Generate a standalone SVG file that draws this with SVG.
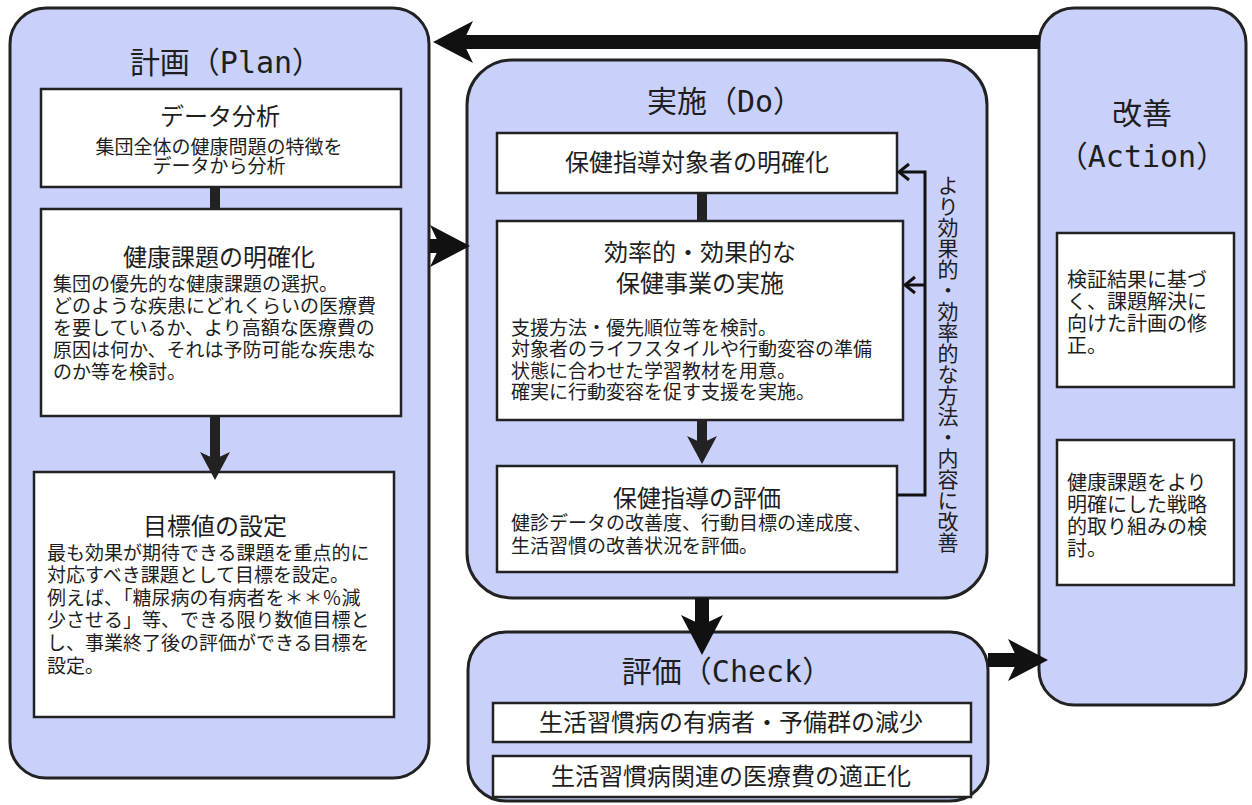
<svg xmlns="http://www.w3.org/2000/svg" width="1252" height="805" viewBox="0 0 1252 805">
<style>
.outer{fill:#c9d0fa;stroke:#222;stroke-width:3}
.inner{fill:#fff;stroke:#222;stroke-width:2.5}
.ttl{font-family:'DejaVu Sans Mono','Noto Sans CJK JP',monospace;font-size:30px;fill:#1e1e1e}
.sub{font-family:'Noto Sans CJK JP',sans-serif;font-size:24px;fill:#1e1e1e}
.body{font-family:'Noto Sans CJK JP',sans-serif;font-size:19px;fill:#1e1e1e}
.act{font-family:'Noto Sans CJK JP',sans-serif;font-size:20px;fill:#1e1e1e}
.c{text-anchor:middle}
.big{stroke:#111;stroke-width:14;fill:none}
.med{stroke:#222;stroke-width:10;fill:none}
.thin{stroke:#111;stroke-width:3;fill:none}
</style>
<defs>
<marker id="ab" viewBox="0 0 40 42" refX="11" refY="21" markerWidth="40" markerHeight="42" markerUnits="userSpaceOnUse" orient="auto"><path d="M0,0 L40,21 L0,42 L10,21 Z" fill="#111"/></marker>
<marker id="am" viewBox="0 0 28 30" refX="8" refY="15" markerWidth="28" markerHeight="30" markerUnits="userSpaceOnUse" orient="auto"><path d="M0,0 L28,15 L0,30 L7,15 Z" fill="#222"/></marker>
<marker id="as" viewBox="0 0 14 20" refX="12" refY="10" markerWidth="14" markerHeight="20" markerUnits="userSpaceOnUse" orient="auto" overflow="visible"><path d="M2,2 L12,10 L2,18" fill="none" stroke="#111" stroke-width="3"/></marker>
</defs>

<g id="plan">
<rect class="outer" x="10" y="8" width="419" height="770" rx="36"/>
<text class="ttl c" x="226" y="73">計画（Plan）</text>
</g>
<g id="plan-data">
<rect class="inner" x="41" y="89" width="360" height="98"/>
<text class="sub c" x="220" y="125">データ分析</text>
<text class="body c" x="219" y="154">集団全体の健康問題の特徴を</text>
<text class="body c" x="219" y="173">データから分析</text>
</g>
<g id="plan-issue">
<rect class="inner" x="41" y="209" width="360" height="207"/>
<text class="sub c" x="219" y="266">健康課題の明確化</text>
<text class="body" x="53" y="291">集団の優先的な健康課題の選択。</text>
<text class="body" x="53" y="313">どのような疾患にどれくらいの医療費</text>
<text class="body" x="53" y="335">を要しているか、より高額な医療費の</text>
<text class="body" x="53" y="357">原因は何か、それは予防可能な疾患な</text>
<text class="body" x="53" y="379">のか等を検討。</text>
</g>
<g id="plan-goal">
<rect class="inner" x="34" y="472" width="360" height="245"/>
<text class="sub c" x="215" y="535">目標値の設定</text>
<text class="body" x="47" y="560">最も効果が期待できる課題を重点的に</text>
<text class="body" x="47" y="582">対応すべき課題として目標を設定。</text>
<text class="body" x="47" y="605">例えば、「糖尿病の有病者を＊＊％減</text>
<text class="body" x="47" y="627">少させる」等、できる限り数値目標と</text>
<text class="body" x="47" y="650">し、事業終了後の評価ができる目標を</text>
<text class="body" x="47" y="673">設定。</text>
</g>

<g id="do">
<rect class="outer" x="467" y="60" width="520" height="538" rx="45"/>
<text class="ttl c" x="725" y="112">実施（Do）</text>
<text class="body" x="948" y="175" style="writing-mode:vertical-rl;font-size:21px">より効果的・効率的な方法・内容に改善</text>
</g>
<g id="do-target">
<rect class="inner" x="497" y="133" width="400" height="60"/>
<text class="sub c" x="697" y="171">保健指導対象者の明確化</text>
</g>
<g id="do-exec">
<rect class="inner" x="497" y="221" width="406" height="199"/>
<text class="sub c" x="700" y="261">効率的・効果的な</text>
<text class="sub c" x="700" y="292">保健事業の実施</text>
<text class="body" x="511" y="335">支援方法・優先順位等を検討。</text>
<text class="body" x="511" y="356">対象者のライフスタイルや行動変容の準備</text>
<text class="body" x="511" y="378">状態に合わせた学習教材を用意。</text>
<text class="body" x="511" y="399">確実に行動変容を促す支援を実施。</text>
</g>
<g id="do-eval">
<rect class="inner" x="497" y="466" width="400" height="106"/>
<text class="sub c" x="697" y="507">保健指導の評価</text>
<text class="body" x="511" y="530">健診データの改善度、行動目標の達成度、</text>
<text class="body" x="511" y="553">生活習慣の改善状況を評価。</text>
</g>

<g id="check">
<rect class="outer" x="468" y="632" width="520" height="169" rx="38"/>
<text class="ttl c" x="727" y="682">評価（Check）</text>
</g>
<g id="check-1">
<rect class="inner" x="493" y="703" width="478" height="39"/>
<text class="sub c" x="731" y="731">生活習慣病の有病者・予備群の減少</text>
</g>
<g id="check-2">
<rect class="inner" x="493" y="756" width="478" height="41"/>
<text class="sub c" x="731" y="785">生活習慣病関連の医療費の適正化</text>
</g>

<g id="action">
<rect class="outer" x="1039" y="8" width="207" height="697" rx="35"/>
<text class="ttl c" x="1142" y="124">改善</text>
<text class="ttl c" x="1142" y="167">（Action）</text>
</g>
<g id="action-1">
<rect class="inner" x="1057" y="233" width="177" height="154"/>
<text class="act" x="1067" y="287">検証結果に基づ</text>
<text class="act" x="1067" y="309">く、課題解決に</text>
<text class="act" x="1067" y="331">向けた計画の修</text>
<text class="act" x="1067" y="353">正。</text>
</g>
<g id="action-2">
<rect class="inner" x="1057" y="440" width="177" height="145"/>
<text class="act" x="1067" y="490">健康課題をより</text>
<text class="act" x="1067" y="512">明確にした戦略</text>
<text class="act" x="1067" y="534">的取り組みの検</text>
<text class="act" x="1067" y="556">討。</text>
</g>

<g id="connectors">
<line class="big" x1="1040" y1="42" x2="462" y2="42" marker-end="url(#ab)"/>
<line class="big" x1="430" y1="246" x2="441" y2="246" marker-end="url(#ab)"/>
<line class="big" x1="702" y1="598" x2="702" y2="626" marker-end="url(#ab)"/>
<line class="big" x1="988" y1="660" x2="1019" y2="660" marker-end="url(#ab)"/>
<line class="med" x1="215" y1="187" x2="215" y2="209"/>
<line class="med" x1="215" y1="416" x2="215" y2="460" marker-end="url(#am)"/>
<line class="med" x1="702" y1="193" x2="702" y2="221"/>
<line class="med" x1="702" y1="420" x2="702" y2="444" marker-end="url(#am)"/>
<path class="thin" d="M897,495 H925 V172 H899" marker-end="url(#as)"/>
<path class="thin" d="M925,285 H905" marker-end="url(#as)"/>
</g>
</svg>
